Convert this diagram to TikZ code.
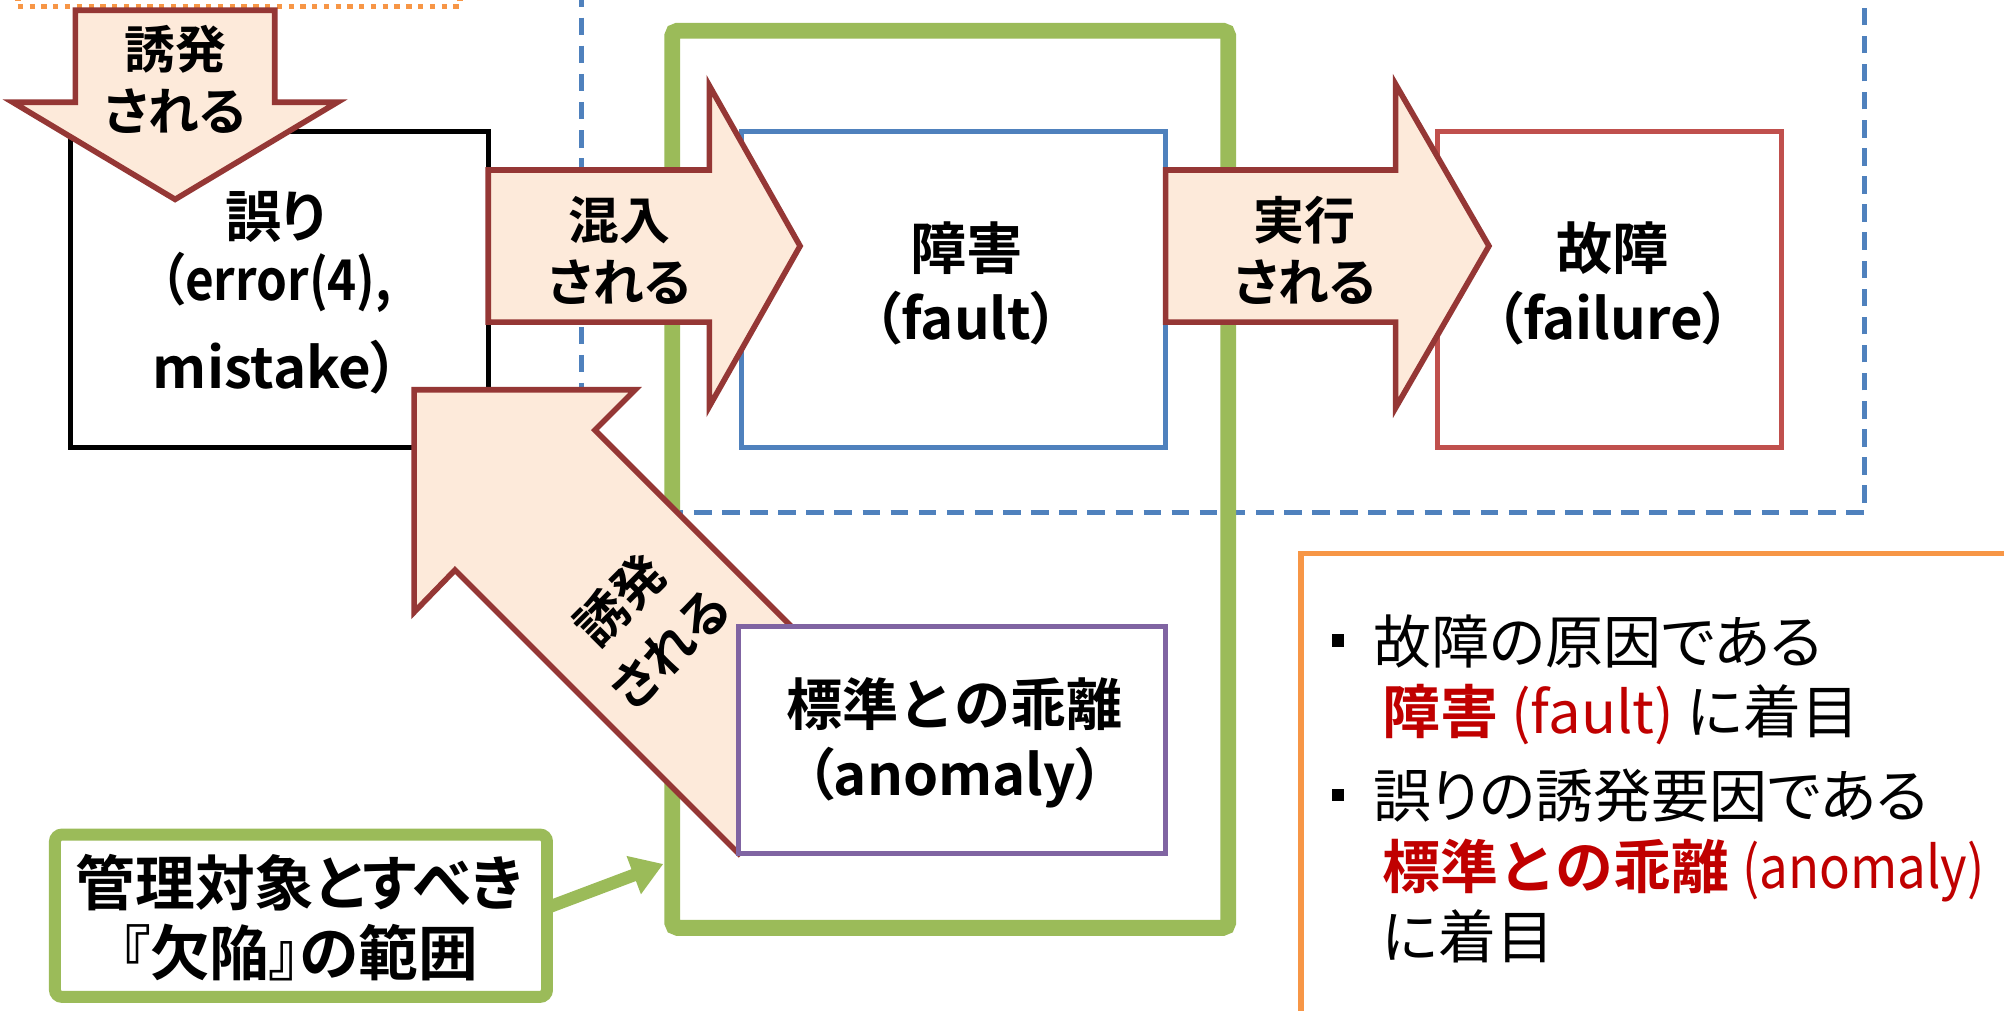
\documentclass[tikz,border=0pt]{standalone}
\usepackage{fontspec}
\usetikzlibrary{arrows.meta,fit,calc}
\setmainfont{Noto Sans CJK JP}[BoldFont={Noto Sans CJK JP Bold}, RawFeature=+palt]
\newfontfamily\jpfull{Noto Sans CJK JP}[BoldFont={Noto Sans CJK JP Bold}]
\newfontfamily\latn{Noto Sans CJK JP}[BoldFont={Noto Sans CJK JP Bold}, RawFeature=+palt, FakeStretch=0.88]
\definecolor{peach}{HTML}{FDEADA}
\definecolor{arrred}{HTML}{953735}
\definecolor{ggreen}{HTML}{9BBB59}
\definecolor{bblue}{HTML}{4F81BD}
\definecolor{rred}{HTML}{C0504D}
\definecolor{ppurple}{HTML}{8064A2}
\definecolor{oorange}{HTML}{F79646}
\definecolor{txtred}{HTML}{C00000}
\begin{document}
\begin{tikzpicture}[x=0.012781cm, y=-0.012781cm,
  region/.style={inner sep=0pt, outer sep=0pt},
  box/.style={draw, line width=1.5pt, fill=white, inner sep=0pt, outer sep=0pt},
  blockarrow/.style={fill=peach, draw=arrred, line width=1.6pt, line join=miter},
  lbl/.style={align=center, inner sep=0pt, font=\bfseries\fontsize{16}{20}\selectfont},
  albl/.style={align=center, inner sep=0pt, font=\bfseries\fontsize{14.5}{17.5}\selectfont},
  nlbl/.style={align=center, inner sep=0pt, font=\bfseries\fontsize{17}{20}\selectfont},
  otxt/.style={inner sep=0pt, font=\fontsize{16.5}{20}\selectfont},
  bullet/.style={fill=black, minimum size=3.6pt, inner sep=0pt}]
\useasboundingbox (0,0) rectangle (1568,791);
\clip (0,0) rectangle (1568,791);
\fill[white] (0,0) rectangle (1568,791);

% regions
\node[region, fit={(455,-20)(1459,401)}, draw=bblue, line width=1.3pt, dash pattern=on 5pt off 3pt] (flow) {};
\node[region, fit={(14,-40)(360,5)}, draw=oorange, line width=1.6pt, dash pattern=on 1.5pt off 1.85pt] (cause) {};
\node[region, fit={(526,24)(961,726)}, draw=ggreen, line width=4.5pt, rounded corners=1.5pt] (scope) {};

% boxes
\node[box, draw=black, fit={(55,103)(382,350)}] (err) {};
\node[box, draw=bblue, fit={(580,103)(912,350)}] (fault) {};
\node[box, draw=rred, fit={(1125,103)(1394,350)}] (failure) {};
\node[lbl] (errt) at (216,229) {誤り\\[-2pt]{\latn （error(4),}\\[5pt]mistake）};
\node[lbl] (faultt) at (756,222) {障害\\（fault）};
\node[lbl] (failuret) at (1262,222) {故障\\（failure）};

% block arrows
\filldraw[blockarrow] (59,8) -- (215,8) -- (215,80) -- (264,80) -- (137,156) -- (10,80) -- (59,80) -- cycle;
\node[albl] (induce1) at (137,62) {誘発\\される};
\filldraw[blockarrow] (382,133) -- (555,133) -- (555,67) -- (626,192.5) -- (555,318) -- (555,252) -- (382,252) -- cycle;
\node[albl] (mix) at (485,196) {混入\\される};
\filldraw[blockarrow] (912,133) -- (1092,133) -- (1092,66) -- (1165,192.5) -- (1092,319) -- (1092,252) -- (912,252) -- cycle;
\node[albl] (exec) at (1021,196) {実行\\される};
\filldraw[blockarrow] (324,305) -- (497,305) -- (465.5,336.5) -- (687.5,558.5) -- (578,668) -- (356,446) -- (324,479) -- cycle;
\node[albl, rotate=45] (induce2) at (504,488) {誘発\\[2.5pt]される};

% anomaly
\node[box, draw=ppurple, fit={(578,490)(912,668)}] (anom) {};
\node[lbl] (anomt) at (747,581) {{\jpfull\bfseries 標準との乖離}\\（anomaly）};

% note
\node[region, fit={(43,653)(428,780)}, draw=ggreen, fill=white, line width=3.4pt, rounded corners=2pt] (note) {};
\node[nlbl] (notet) at (234,718) {管理対象とすべき\\『欠陥』の範囲};
\coordinate (gtip) at (519,676);
\draw[ggreen, line width=3.6pt, -{Triangle[length=9pt, width=11pt]}] ($(note.east)+(2,-7)$) -- (gtip);

% memo
\node[region, fit={(1018,433)(1620,860)}, draw=oorange, line width=1.5pt] (memo) {};
\node[bullet] (b1) at (1047,501) {};
\node[otxt, anchor=base west] (m1) at (1074,519) {故障の原因である};
\node[otxt, anchor=base west] (m2) at (1081,574) {\textcolor{txtred}{\bfseries 障害 \mdseries(fault)} に着目};
\node[bullet] (b2) at (1047,622) {};
\node[otxt, anchor=base west] (m3) at (1074,640) {誤りの誘発要因である};
\node[otxt, anchor=base west] (m4) at (1081,695) {\textcolor{txtred}{{\jpfull\bfseries 標準との乖離} {\latn\mdseries (anomaly)}}};
\node[otxt, anchor=base west] (m5) at (1081,750) {に着目};
\end{tikzpicture}
\end{document}
